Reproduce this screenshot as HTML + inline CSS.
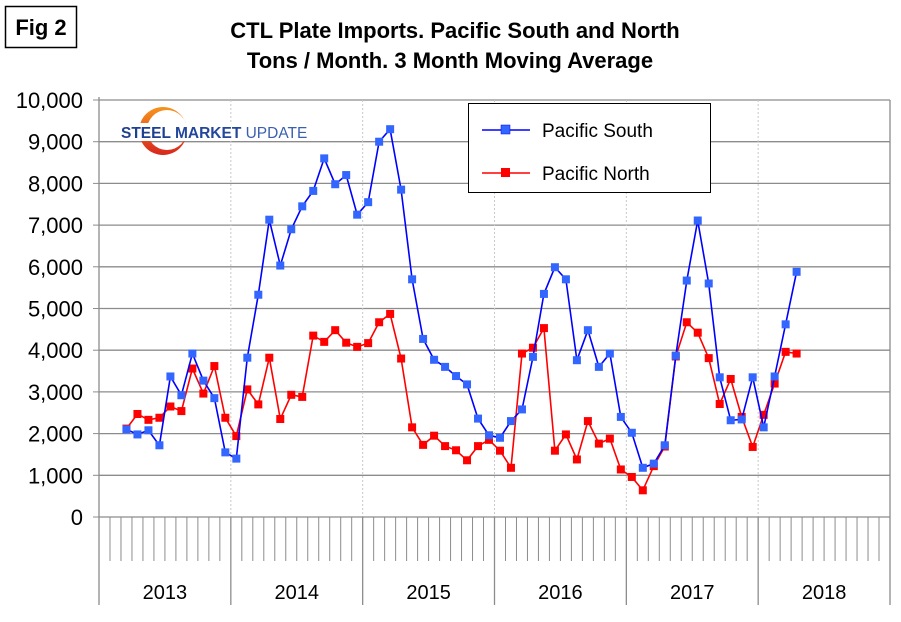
<!DOCTYPE html>
<html><head><meta charset="utf-8"><style>
body{margin:0;background:#fff;}
svg{display:block;font-family:"Liberation Sans",Arial,sans-serif;}
</style></head><body>
<svg id="chart" width="901" height="622" viewBox="0 0 901 622">
<rect width="901" height="622" fill="#fff"/>
<g>
<rect x="5.5" y="6.5" width="71" height="41" fill="#fff" stroke="#000" stroke-width="1.5"/>
<text x="41" y="35" text-anchor="middle" font-size="22" font-weight="bold">Fig 2</text>
</g>
<text x="455" y="38" text-anchor="middle" font-size="22" font-weight="bold">CTL Plate Imports. Pacific South and North</text>
<text x="450" y="68" text-anchor="middle" font-size="22" font-weight="bold">Tons / Month. 3 Month Moving Average</text>
<g id="grid"></g>
<g id="axes"></g>
<g>
<defs><linearGradient id="lg" x1="0" y1="0" x2="0" y2="1"><stop offset="0" stop-color="#f7941d"/><stop offset="1" stop-color="#d7261e"/></linearGradient></defs>
<path fill-rule="evenodd" d="M139 131 A24 24 0 1 0 187 131 A24 24 0 1 0 139 131 Z M147 130 A20 20 0 1 0 187 130 A20 20 0 1 0 147 130 Z" fill="url(#lg)"/>
<rect x="118" y="123" width="185" height="18" fill="#fff"/>
<text x="121" y="138" font-size="15.5" font-weight="bold" fill="#1f3f8f">STEEL <tspan fill="#24479b">MARKET</tspan> <tspan font-weight="normal" fill="#3a5fb0">UPDATE</tspan></text>
</g>
<g id="series"></g>
<g>
<rect x="468.5" y="103.5" width="242" height="89" fill="#fff" stroke="#000" stroke-width="1"/>
<g>
<line x1="482" y1="130" x2="530" y2="130" stroke="#0000ff" stroke-width="1.5"/>
<rect x="501" y="125" width="9" height="9" fill="#3366ff" stroke="#0000ff" stroke-width="0.5"/>
<text x="542" y="137" font-size="19">Pacific South</text>
</g>
<g>
<line x1="482" y1="173" x2="530" y2="173" stroke="#ff0000" stroke-width="1.5"/>
<rect x="501" y="168" width="9" height="9" fill="#ff0000"/>
<text x="542" y="180" font-size="19">Pacific North</text>
</g>
</g>
</svg>
<script>
const yTicks = [0,1000,2000,3000,4000,5000,6000,7000,8000,9000,10000];
const yTickLabels = ["0","1,000","2,000","3,000","4,000","5,000","6,000","7,000","8,000","9,000","10,000"];
const years = ["2013","2014","2015","2016","2017","2018"];
const startMonthIndex = 2; // Mar 2013
const pacificSouth = [2100,1980,2080,1720,3370,2920,3920,3270,2850,1550,
 1400,3820,5330,7130,6030,6900,7450,7820,8600,7980,8200,7250,
 7550,9000,9300,7850,5700,4270,3770,3600,3380,3180,2360,1960,
 1900,2300,2580,3840,5350,5990,5700,3760,4480,3600,3920,2400,
 2020,1180,1280,1720,3870,5670,7110,5600,3350,2320,2340,3350,
 2150,3370,4620,5880];
const pacificNorth = [2120,2470,2330,2380,2650,2540,3560,2960,3620,2380,
 1940,3060,2700,3820,2350,2930,2880,4350,4200,4480,4180,4080,
 4170,4670,4870,3800,2150,1730,1950,1700,1600,1360,1700,1850,
 1590,1180,3920,4060,4530,1590,1980,1380,2300,1760,1880,1140,
 960,640,1220,1690,3850,4670,4420,3810,2710,3310,2400,1680,
 2450,3200,3960,3920];

const NS='http://www.w3.org/2000/svg';
const L=99,R=890,T=100,B=517;
const nMonths=years.length*12;
const mw=(R-L)/nMonths;
const y=v=>B-(v/10000)*(B-T);
const xm=i=>L+(i+0.5)*mw;
function mk(tag,attrs,parent){const e=document.createElementNS(NS,tag);for(const k in attrs)e.setAttribute(k,attrs[k]);parent.appendChild(e);return e;}
const grid=document.getElementById('grid'),axes=document.getElementById('axes'),ser=document.getElementById('series');

yTicks.forEach((v,i)=>{
  if(v>0){const g=mk('line',{x1:L,x2:R,y1:y(v),y2:y(v),stroke:'#8c8c8c','stroke-width':1.3},grid);
  
  }
  mk('line',{x1:L-6,x2:L,y1:y(v),y2:y(v),stroke:'#8c8c8c','stroke-width':1},axes);
  const t=mk('text',{x:L-16,y:y(v)+8,'text-anchor':'end','font-size':22},axes);
  t.textContent=yTickLabels[i];
  
  
});
years.forEach((yr,i)=>{
  const x0=L+i*12*mw;
  if(i>0){const d=mk('line',{x1:x0,x2:x0,y1:T,y2:B,stroke:'#c8c8c8','stroke-dasharray':'2,2','stroke-width':1},grid);
  
  }
  mk('line',{x1:x0,x2:x0,y1:B,y2:605,stroke:'#8c8c8c','stroke-width':1.3},axes);
  const t=mk('text',{x:x0+6*mw,y:599,'text-anchor':'middle','font-size':20},axes);
  t.textContent=yr;
  
  
});
for(let m=1;m<nMonths;m++){ if(m%12===0)continue;
  const x=L+m*mw; mk('line',{x1:x,x2:x,y1:B,y2:561,stroke:'#8c8c8c','stroke-width':1},axes);}
mk('line',{x1:R,x2:R,y1:T,y2:605,stroke:'#8c8c8c','stroke-width':1.3},axes);
mk('line',{x1:L,x2:L,y1:T-3,y2:B,stroke:'#8c8c8c','stroke-width':1.3},axes);
mk('line',{x1:L,x2:R,y1:B,y2:B,stroke:'#8c8c8c','stroke-width':1.3},axes);

function drawSeries(data,line,fill,name){
  const g=mk('g',{},ser);
  
  
  const pts=data.map((v,i)=>xm(startMonthIndex+i).toFixed(1)+','+y(v).toFixed(1)).join(' ');
  mk('polyline',{points:pts,fill:'none',stroke:line,'stroke-width':1.6},g);
  data.forEach((v,i)=>{
    const r=mk('rect',{x:xm(startMonthIndex+i)-4,y:y(v)-4,width:8,height:8,fill:fill},g);
    
    
  });
}
drawSeries(pacificNorth,'#ff0000','#ff0000','pacific-north-series');
drawSeries(pacificSouth,'#0000ff','#3366ff','pacific-south-series');
</script>
</body></html>
